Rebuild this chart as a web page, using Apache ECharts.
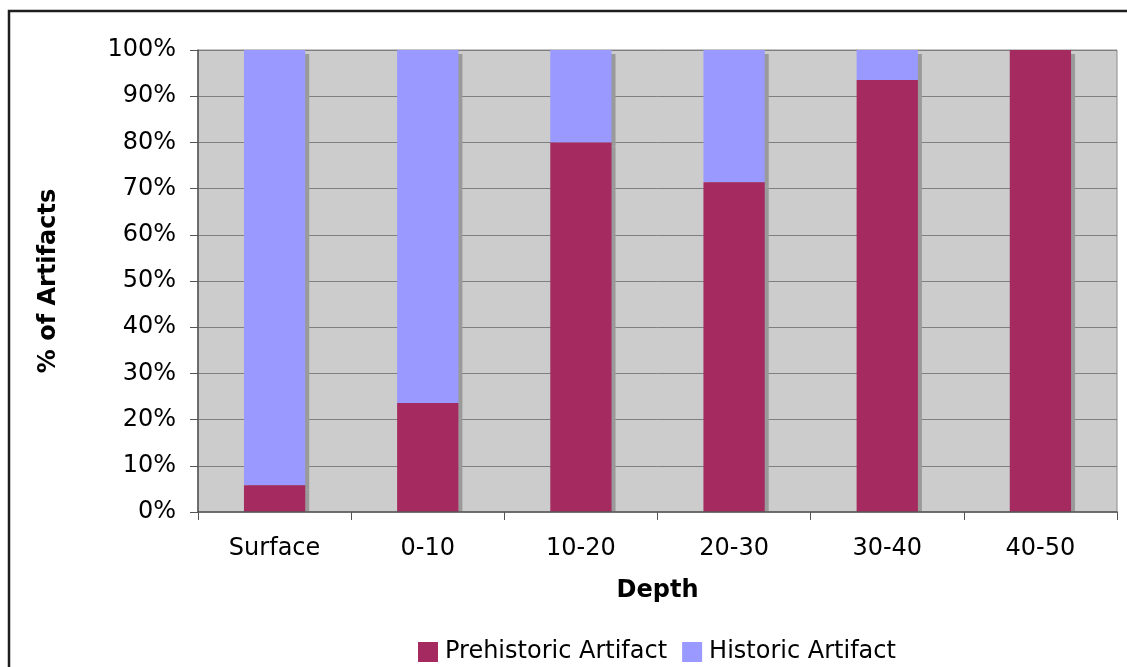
<!DOCTYPE html>
<html>
<head>
<meta charset="utf-8">
<script src="https://cdn.jsdelivr.net/npm/echarts@6/dist/echarts.min.js"></script>
<style>
html,body{margin:0;padding:0;background:#fff;}
#chart{width:1127px;height:667px;}
</style>
</head>
<body>
<div id="chart"></div>
<script>
const categories = ['Surface', '0-10', '10-20', '20-30', '30-40', '40-50'];
const prehistoric = [5.8, 23.6, 80.0, 71.4, 93.5, 100.0];
const historic = [94.2, 76.4, 20.0, 28.6, 6.5, 0.0];
const seriesNames = ['Prehistoric Artifact', 'Historic Artifact'];
const yTicks = { min: 0, max: 100, interval: 10 };

const FONT = 'DejaVu Sans';
const chart = echarts.init(document.getElementById('chart'), null, { renderer: 'canvas' });
const shadow = { shadowColor: '#9a9a9a', shadowOffsetX: 4, shadowOffsetY: 4, shadowBlur: 0 };

chart.setOption({
  animation: false,
  backgroundColor: '#ffffff',
  textStyle: { fontFamily: FONT },
  graphic: [
    {
      type: 'rect',
      shape: { x: 9, y: 11, width: 1300, height: 900 },
      style: { fill: 'none', stroke: '#1e1e1e', lineWidth: 2.5 },
      silent: true, z: 100
    },
    {
      type: 'rect',
      shape: { x: 199, y: 512.5, width: 920, height: 6 },
      style: { fill: '#ffffff' },
      silent: true, z: 5
    }
  ],
  grid: {
    left: 198, right: 10, top: 50, bottom: 155,
    show: true, backgroundColor: '#cccccc', borderColor: '#8a8a8a', borderWidth: 1
  },
  legend: {
    data: seriesNames,
    left: 418, top: 640, padding: 0,
    icon: 'rect', itemWidth: 20, itemHeight: 20, itemGap: 15,
    textStyle: { fontFamily: FONT, fontSize: 24, color: '#000', padding: [0, 0, 0, 2] }
  },
  xAxis: {
    type: 'category',
    z: 10,
    data: categories,
    name: 'Depth',
    nameLocation: 'middle',
    nameGap: 67,
    nameTextStyle: { fontFamily: FONT, fontSize: 24, fontWeight: 'bold', color: '#000' },
    axisLine: { show: true, lineStyle: { color: '#555', width: 1.5 } },
    axisTick: { show: true, length: 8, lineStyle: { color: '#555' } },
    axisLabel: { fontFamily: FONT, fontSize: 24, color: '#000', margin: 25 },
    splitLine: { show: false }
  },
  yAxis: {
    type: 'value',
    min: yTicks.min, max: yTicks.max, interval: yTicks.interval,
    name: '% of Artifacts',
    nameLocation: 'middle',
    nameRotate: 90,
    nameGap: 137,
    nameTextStyle: { fontFamily: FONT, fontSize: 24, fontWeight: 'bold', color: '#000' },
    axisLine: { show: true, lineStyle: { color: '#555', width: 1.5 } },
    axisTick: { show: true, length: 8, lineStyle: { color: '#555' } },
    axisLabel: { fontFamily: FONT, fontSize: 24, color: '#000', margin: 22, formatter: '{value}%' },
    splitLine: { show: true, lineStyle: { color: '#7f7f7f', width: 1 } }
  },
  series: [
    {
      name: seriesNames[0], type: 'bar', stack: 'total', data: prehistoric,
      barWidth: '40%', z: 3,
      itemStyle: Object.assign({ color: '#a52a60' }, shadow)
    },
    {
      name: seriesNames[1], type: 'bar', stack: 'total', data: historic,
      barWidth: '40%', z: 2,
      itemStyle: Object.assign({ color: '#9999ff' }, shadow)
    }
  ]
});
</script>
</body>
</html>
